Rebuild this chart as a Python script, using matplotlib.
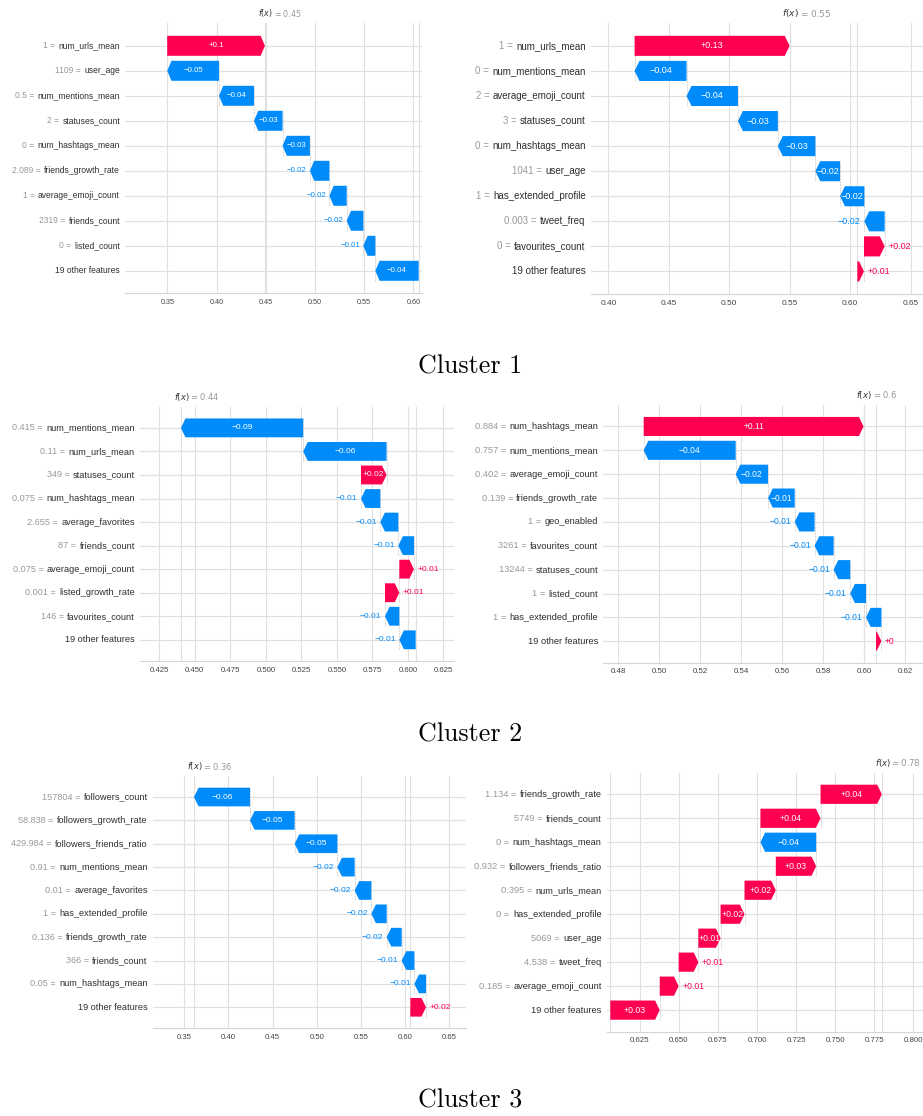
import re
import matplotlib
matplotlib.use("Agg")
import matplotlib.pyplot as plt
from matplotlib.ticker import MultipleLocator
from matplotlib.transforms import blended_transform_factory, ScaledTranslation

plt.rcParams["font.family"] = ["Liberation Sans", "DejaVu Sans"]

RED = "#ff0051"
BLUE = "#008bfb"
GRID = "#e0e0e0"

# ---- cluster 1 ----
c1a_names = ["num_urls_mean", "user_age", "num_mentions_mean", "statuses_count", "num_hashtags_mean",
             "friends_growth_rate", "average_emoji_count", "friends_count", "listed_count", "19 other features"]
c1a_feats = [1, 1109, 0.5, 2, 0, 2.089, 1, 2319, 0, None]
c1a_shap = [0.0993, -0.0526, -0.0356, -0.0290, -0.0278, -0.0198, -0.0176, -0.0169, -0.0122, -0.0440]
c1a_base = 0.6054

c1b_names = ["num_urls_mean", "num_mentions_mean", "average_emoji_count", "statuses_count", "num_hashtags_mean",
             "user_age", "has_extended_profile", "tweet_freq", "favourites_count", "19 other features"]
c1b_feats = [1, 0, 2, 3, 0, 1041, 1, 0.003, 0, None]
c1b_shap = [0.1282, -0.0430, -0.0425, -0.0330, -0.0310, -0.0204, -0.0201, -0.0168, 0.0171, 0.0055]
c1b_base = 0.6059

# ---- cluster 2 ----
c2a_names = ["num_mentions_mean", "num_urls_mean", "statuses_count", "num_hashtags_mean", "average_favorites",
             "friends_count", "average_emoji_count", "listed_growth_rate", "favourites_count", "19 other features"]
c2a_feats = [0.415, 0.11, 349, 0.075, 2.655, 87, 0.075, 0.001, 146, None]
c2a_shap = [-0.0861, -0.0587, 0.0180, -0.0136, -0.0127, -0.0110, 0.0103, 0.0101, -0.0101, -0.0115]
c2a_base = 0.6055

c2b_names = ["num_hashtags_mean", "num_mentions_mean", "average_emoji_count", "friends_growth_rate", "geo_enabled",
             "favourites_count", "statuses_count", "listed_count", "has_extended_profile", "19 other features"]
c2b_feats = [0.884, 0.757, 0.402, 0.139, 1, 3261, 13244, 1, 1, None]
c2b_shap = [0.1073, -0.0449, -0.0158, -0.0130, -0.0097, -0.0093, -0.0081, -0.0077, -0.0075, 0.0026]
c2b_base = 0.6059

# ---- cluster 3 ----
c3a_names = ["followers_count", "followers_growth_rate", "followers_friends_ratio", "num_mentions_mean",
             "average_favorites", "has_extended_profile", "friends_growth_rate", "friends_count",
             "num_hashtags_mean", "19 other features"]
c3a_feats = [157804, 58.838, 429.984, 0.91, 0.01, 1, 0.136, 366, 0.05, None]
c3a_shap = [-0.0635, -0.0506, -0.0484, -0.0196, -0.0189, -0.0174, -0.0170, -0.0144, -0.0132, 0.0178]
c3a_base = 0.6061

c3b_names = ["friends_growth_rate", "friends_count", "num_hashtags_mean", "followers_friends_ratio", "num_urls_mean",
             "has_extended_profile", "user_age", "tweet_freq", "average_emoji_count", "19 other features"]
c3b_feats = [1.134, 5749, 0, 0.932, 0.395, 0, 5069, 4.538, 0.185, None]
c3b_shap = [0.0392, 0.0384, -0.0356, 0.0258, 0.0200, 0.0153, 0.0142, 0.0126, 0.0121, 0.0316]
c3b_base = 0.6062

captions = ["Cluster 1", "Cluster 2", "Cluster 3"]

# figure size in pixels and the pixel boxes (left, right, top, bottom) of each plot
W, H = 923, 1116
DPI = 100
panels = [
    (c1a_names, c1a_feats, c1a_shap, c1a_base, (125, 421.7, 23.3, 293.3), (0.307, 0.6085), 0.05, 0.473),
    (c1b_names, c1b_feats, c1b_shap, c1b_base, (590.7, 923, 23.3, 294), (0.3854, 0.6602), 0.05, 0.542),
    (c2a_names, c2a_feats, c2a_shap, c2a_base, (140, 454, 406.7, 661), (0.4114, 0.6325), 0.025, 0.505),
    (c2b_names, c2b_feats, c2b_shap, c2b_base, (603.3, 923, 405, 662.7), (0.4728, 0.6288), 0.02, 0.512),
    (c3a_names, c3a_feats, c3a_shap, c3a_base, (152.7, 466, 776, 1028.3), (0.3141, 0.6692), 0.05, 0.505),
    (c3b_names, c3b_feats, c3b_shap, c3b_base, (606.7, 923, 772.7, 1031.7), (0.6039, 0.8061), 0.025, 0.515),
]
caption_baselines = [373.3, 741.7, 1107.3]


def format_value(v, fmt):
    s = fmt % v
    s = re.sub(r"\.?0+$", "", s)
    if s[0] == "-":
        s = "\u2212" + s[1:]
    return s


def waterfall(fig, ax, names, feats, shap, base, xlim, step, s):
    renderer = fig.canvas.get_renderer()
    n = len(names)
    ypos = list(range(n - 1, -1, -1))

    # running sum from the bottom row (base value) up to f(x)
    starts = [0.0] * n
    cur = base
    for i in reversed(range(n)):
        starts[i] = cur
        cur += shap[i]
    fx = cur

    ax.set_xlim(*xlim)
    ax.set_ylim(-0.9, n - 0.1)
    ax.xaxis.set_major_locator(MultipleLocator(step))
    ax.set_yticks([])
    ax.tick_params(axis="x", length=0, labelsize=11 * s, labelcolor="#444444", pad=4)
    for side in ["top", "right", "left"]:
        ax.spines[side].set_visible(False)
    ax.spines["bottom"].set_color("#d4d4d4")
    ax.spines["bottom"].set_linewidth(0.8)
    ax.grid(axis="x", color=GRID, linewidth=0.8, zorder=-2)
    ax.set_axisbelow(True)
    for y in ypos:
        ax.axhline(y, color=GRID, linewidth=0.9, zorder=-2)
    ax.axvline(base, color=GRID, linewidth=0.8, zorder=-2)
    ax.axvline(fx, color=GRID, linewidth=0.8, zorder=-2)

    ax_w_px = ax.get_window_extent(renderer).width
    px_per_unit = ax_w_px / (xlim[1] - xlim[0])
    hl = 9 * s / px_per_unit

    for i in range(n):
        x0, dx, y = starts[i], shap[i], ypos[i]
        color = RED if dx > 0 else BLUE
        ax.arrow(x0, y, dx, 0, width=0.8, head_width=0.8, head_length=min(abs(dx), hl),
                 length_includes_head=True, color=color, linewidth=0, zorder=3)
        if i < n - 1:
            ax.plot([x0, x0], [y - 1 - 0.4, y + 0.4], color="#bbbbbb", linestyle="--",
                    linewidth=0.4, zorder=-1)

        label = format_value(dx, "%+0.02f")
        txt = ax.text(x0 + dx / 2, y, label, ha="center", va="center", color="white",
                      fontsize=12 * s, zorder=4)
        if txt.get_window_extent(renderer).width > abs(dx) * px_per_unit:
            txt.remove()
            off = 5 / 72 * s
            if dx > 0:
                tr = ax.transData + ScaledTranslation(off, 0, fig.dpi_scale_trans)
                ax.text(x0 + dx, y, label, ha="left", va="center", color=RED,
                        fontsize=12 * s, transform=tr, zorder=4)
            else:
                tr = ax.transData + ScaledTranslation(-off, 0, fig.dpi_scale_trans)
                ax.text(x0 + dx, y, label, ha="right", va="center", color=BLUE,
                        fontsize=12 * s, transform=tr, zorder=4)

    # feature labels: dark name, with the grey "value =" part in front of it
    fs = 13 * s
    ytr = blended_transform_factory(ax.transAxes, ax.transData) + \
        ScaledTranslation(-0.05, 0, fig.dpi_scale_trans)
    gap = 0.36 * fs / 72
    for i in range(n):
        name_txt = ax.text(0, ypos[i], names[i], ha="right", va="center", color="#2e2e2e",
                           fontsize=fs, transform=ytr, clip_on=False)
        if feats[i] is not None:
            w = name_txt.get_window_extent(renderer).width / DPI
            ax.text(0, ypos[i], format_value(feats[i], "%0.03f") + " =", ha="right", va="center",
                    color="#999999", fontsize=fs, clip_on=False,
                    transform=ytr + ScaledTranslation(-(w + gap), 0, fig.dpi_scale_trans))

    # f(x) marker above the plot
    top = blended_transform_factory(ax.transData, ax.transAxes)
    ax.text(fx, 1, "$f(x)$", ha="left", va="center", color="#333333", fontsize=12 * s,
            transform=top + ScaledTranslation(-10 / 72 * s, 0.10, fig.dpi_scale_trans))
    ax.text(fx, 1, "$ = " + format_value(fx, "%0.02f") + "$", ha="left", va="center",
            color="#999999", fontsize=12 * s,
            transform=top + ScaledTranslation(12 / 72 * s, 0.10, fig.dpi_scale_trans))


fig = plt.figure(figsize=(W / DPI, H / DPI), dpi=DPI)
fig.patch.set_facecolor("white")

for names, feats, shap, base, box, xlim, step, s in panels:
    left, right, top, bottom = box
    ax = fig.add_axes([left / W, 1 - bottom / H, (right - left) / W, (bottom - top) / H])
    waterfall(fig, ax, names, feats, shap, base, xlim, step, s)

for cap, yb in zip(captions, caption_baselines):
    fig.text(470 / W, 1 - yb / H, cap, ha="center", va="baseline", fontsize=18.7,
             family="cmr10", color="black")

fig.savefig("out.png", dpi=DPI, facecolor="white")
